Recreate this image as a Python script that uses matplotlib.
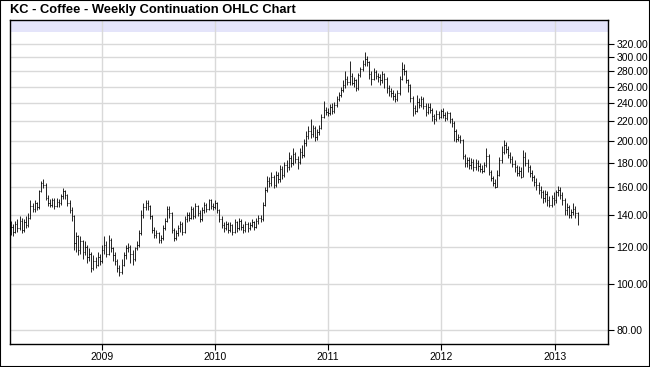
import numpy as np
import pandas as pd
import matplotlib
matplotlib.use("Agg")
from matplotlib import pyplot as plt
from matplotlib.patches import Rectangle
import matplotlib.dates as mdates
import matplotlib.ticker as mticker

plt.rcParams['font.family'] = ['Liberation Sans', 'DejaVu Sans']

# weekly bars, Fridays, starting mid March 2008
week_start = "2008-03-14"

closes = [
    132, 129, 134, 131, 136, 130, 135, 133, 138, 146,
    144, 148, 145, 157, 163, 162, 152, 148, 147, 150,
    146, 149, 148, 153, 157, 154, 148, 143, 139, 122,
    126, 118, 123, 117, 120, 114, 116, 108, 112, 110,
    114, 112, 118, 121, 116, 124, 119, 115, 112, 108,
    106, 110, 115, 119, 120, 116, 113, 119, 121, 128,
    140, 145, 148, 146, 139, 130, 127, 128, 124, 125,
    131, 136, 144, 141, 130, 125, 128, 131, 134, 129,
    137, 140, 138, 144, 139, 146, 141, 137, 143, 147,
    144, 150, 146, 145, 148, 143, 137, 133, 131, 134,
    130, 133, 129, 135, 131, 136, 132, 130, 134, 131,
    133, 135, 132, 136, 138, 137, 147, 158, 165, 163,
    168, 162, 170, 166, 175, 170, 178, 176, 184, 180,
    188, 183, 181, 190, 187, 198, 205, 210, 207, 213,
    204, 209, 213, 225, 232, 230, 229, 236, 231, 238,
    245, 250, 256, 262, 270, 266, 274, 265, 268, 258,
    275, 283, 290, 298, 293, 276, 270, 279, 274, 272,
    268, 276, 270, 258, 255, 252, 248, 245, 252, 270,
    283, 280, 268, 262, 246, 234, 231, 242, 238, 245,
    237, 230, 236, 232, 226, 222, 228, 225, 231, 227,
    224, 229, 222, 218, 210, 202, 204, 201, 186, 180,
    182, 178, 181, 176, 180, 177, 175, 173, 178, 186,
    172, 167, 163, 160, 170, 182, 190, 196, 192, 187,
    183, 179, 176, 171, 173, 168, 185, 180, 176, 171,
    168, 164, 162, 158, 156, 152, 155, 150, 147, 152,
    150, 156, 158, 154, 150, 143, 145, 140, 142, 144, 141, 135,
]

highs = [
    136, 134, 136, 137, 139, 138, 137, 139, 141, 150,
    148, 150, 149, 158, 165, 166, 163, 154, 151, 152,
    152, 152, 151, 155, 159, 158, 155, 150, 145, 140,
    129, 127, 126, 124, 123, 121, 119, 117, 115, 114,
    117, 116, 121, 126, 123, 127, 125, 120, 117, 113,
    110, 113, 117, 121, 122, 121, 118, 120, 123, 130,
    143, 148, 150, 150, 147, 140, 132, 130, 129, 127,
    133, 138, 146, 146, 142, 131, 130, 133, 136, 135,
    139, 142, 142, 146, 145, 148, 147, 143, 145, 149,
    148, 151, 151, 148, 150, 149, 144, 139, 135, 136,
    135, 135, 134, 137, 136, 138, 137, 134, 136, 135,
    135, 137, 136, 138, 140, 140, 149, 160, 169, 168,
    172, 170, 173, 172, 178, 177, 181, 182, 190, 187,
    193, 190, 186, 193, 196, 202, 210, 215, 222, 216,
    215, 212, 216, 228, 243, 236, 234, 239, 240, 242,
    248, 254, 260, 268, 280, 274, 295, 278, 272, 270,
    278, 286, 296, 307, 302, 295, 280, 284, 282, 278,
    276, 280, 278, 272, 262, 258, 256, 252, 256, 274,
    293, 290, 282, 270, 264, 248, 238, 250, 246, 248,
    247, 240, 240, 240, 234, 228, 232, 231, 233, 234,
    230, 231, 230, 224, 220, 212, 207, 206, 202, 188,
    185, 185, 184, 183, 183, 182, 180, 178, 181, 193,
    188, 174, 169, 166, 174, 185, 195, 201, 199, 195,
    190, 186, 182, 178, 177, 176, 191, 190, 183, 178,
    174, 170, 167, 164, 161, 158, 158, 157, 153, 154,
    156, 158, 161, 160, 156, 152, 148, 147, 144, 148, 146, 142,
]

lows = [
    127, 126, 128, 129, 130, 128, 129, 131, 132, 137,
    142, 142, 143, 144, 156, 159, 150, 146, 145, 145,
    144, 145, 145, 147, 151, 151, 146, 141, 136, 118,
    117, 115, 116, 113, 115, 111, 112, 106, 107, 108,
    109, 110, 111, 116, 114, 115, 117, 112, 110, 106,
    104, 105, 109, 113, 117, 111, 110, 112, 118, 120,
    127, 138, 143, 143, 137, 128, 125, 125, 122, 122,
    124, 130, 135, 138, 128, 123, 124, 126, 129, 127,
    128, 135, 136, 137, 137, 138, 139, 135, 136, 141,
    142, 143, 144, 143, 144, 141, 135, 131, 129, 130,
    128, 129, 127, 128, 129, 130, 130, 128, 129, 129,
    130, 132, 130, 131, 134, 135, 136, 146, 156, 160,
    161, 159, 160, 163, 164, 166, 168, 172, 174, 176,
    178, 180, 175, 179, 184, 185, 195, 202, 203, 204,
    200, 201, 206, 212, 223, 227, 226, 227, 228, 229,
    236, 243, 247, 253, 258, 262, 262, 262, 260, 255,
    256, 272, 280, 288, 288, 270, 262, 268, 270, 266,
    262, 265, 258, 252, 249, 247, 244, 242, 243, 250,
    268, 275, 265, 253, 241, 226, 228, 230, 235, 236,
    233, 226, 228, 229, 220, 217, 220, 222, 223, 224,
    220, 221, 218, 214, 200, 199, 200, 198, 183, 176,
    176, 175, 175, 173, 174, 173, 172, 171, 172, 176,
    170, 165, 161, 159, 160, 169, 180, 188, 189, 184,
    180, 176, 172, 169, 169, 167, 168, 177, 172, 168,
    165, 161, 158, 155, 152, 148, 149, 146, 145, 145,
    147, 148, 153, 151, 147, 140, 140, 138, 138, 140, 138, 133,
]

price_ticks = [80, 100, 120, 140, 160, 180, 200, 220, 240, 260, 280, 300, 320]
year_ticks = ["2009", "2010", "2011", "2012", "2013"]

dates = pd.date_range(week_start, periods=len(closes), freq="W-FRI")
x = mdates.date2num(dates)
c = np.array(closes, dtype=float)
o = np.concatenate([[c[0]], c[:-1]])  # continuation: open at last close
h = np.maximum(np.array(highs, dtype=float), np.maximum(o, c))
l = np.minimum(np.array(lows, dtype=float), np.minimum(o, c))

fig = plt.figure(figsize=(6.5, 3.67), dpi=100)
fig.patches.append(Rectangle((0, 0), 1, 1, transform=fig.transFigure,
                             fill=False, edgecolor="black", linewidth=1.5))
fig.text(10 / 650, 1 - 10 / 367, "KC - Coffee - Weekly Continuation OHLC Chart",
         fontsize=9.3, fontweight="bold", va="center", ha="left")

ax = fig.add_axes([10 / 650, 23 / 367, 598 / 650, 324 / 367])
ax.set_yscale("log")
ax.set_ylim(74.9, 359)
ax.set_xlim(mdates.date2num(pd.Timestamp("2008-03-11")),
            mdates.date2num(pd.Timestamp("2013-06-21")))

ax.add_patch(Rectangle((0, 1 - 12 / 324), 1, 12 / 324, transform=ax.transAxes,
                       facecolor="#e4e4fa", edgecolor="none", zorder=0))

tick_days = 2.5
ax.vlines(x, l, h, color="black", linewidth=0.6)
ax.hlines(o, x - tick_days, x, color="black", linewidth=0.6)
ax.hlines(c, x, x + tick_days, color="black", linewidth=0.6)

ax.yaxis.tick_right()
ax.yaxis.set_major_locator(mticker.FixedLocator(price_ticks))
ax.yaxis.set_minor_locator(mticker.NullLocator())
ax.yaxis.set_major_formatter(mticker.FuncFormatter(lambda v, p: f"{v:.2f}"))
ax.set_xticks(mdates.date2num(pd.to_datetime([y + "-01-01" for y in year_ticks])))
ax.set_xticklabels(year_ticks)
ax.tick_params(axis="both", which="major", labelsize=7.5, length=4,
               width=0.8, direction="out", pad=2)
ax.grid(True, color="#d9d9d9", linewidth=1, zorder=0)
ax.set_axisbelow(True)
for s in ax.spines.values():
    s.set_linewidth(1)
    s.set_color("black")

plt.savefig("out.png", dpi=100)
plt.close()
